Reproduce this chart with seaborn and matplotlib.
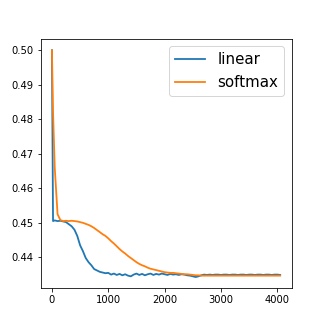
import matplotlib
matplotlib.use("Agg")
import matplotlib.pyplot as plt
import seaborn as sns

# training steps (x axis)
steps = [0, 20] + list(range(50, 4051, 50))

# loss curves
linear = [
    0.5000, 0.4505, 0.4507, 0.4505, 0.4506, 0.4504, 0.4502, 0.4496, 0.4490, 0.4480,
    0.4462, 0.4435, 0.4418, 0.4398, 0.4386, 0.4377, 0.4366, 0.4362, 0.4358, 0.4356,
    0.4354, 0.4355, 0.4350, 0.4353, 0.4349, 0.4352, 0.4348, 0.4351, 0.4347, 0.4345,
    0.4350, 0.4353, 0.4349, 0.4352, 0.4348, 0.4351, 0.4353, 0.4349, 0.4352, 0.4350,
    0.4353, 0.4351, 0.4349, 0.4352, 0.4350, 0.4351, 0.4349, 0.4351, 0.4350, 0.4348,
    0.4347, 0.4345, 0.4343, 0.4345, 0.4348, 0.4350, 0.4349, 0.4350, 0.4349, 0.4350,
    0.4350, 0.4349, 0.4350, 0.4350, 0.4349, 0.4350, 0.4350, 0.4349, 0.4350, 0.4350,
    0.4349, 0.4350, 0.4350, 0.4349, 0.4350, 0.4350, 0.4349, 0.4350, 0.4350, 0.4349,
    0.4350, 0.4350, 0.4349,
]
softmax = [
    0.5000, 0.4820, 0.4660, 0.4525, 0.4508, 0.4505, 0.4506, 0.4505, 0.4506, 0.4505,
    0.4504, 0.4502, 0.4500, 0.4497, 0.4494, 0.4490, 0.4485, 0.4479, 0.4473, 0.4467,
    0.4462, 0.4455, 0.4447, 0.4440, 0.4432, 0.4424, 0.4417, 0.4411, 0.4404, 0.4398,
    0.4392, 0.4386, 0.4381, 0.4377, 0.4374, 0.4370, 0.4367, 0.4365, 0.4363, 0.4361,
    0.4359, 0.4357, 0.4356, 0.4355, 0.4355, 0.4354, 0.4353, 0.4352, 0.4351, 0.4351,
    0.4350, 0.4349, 0.4348, 0.4348, 0.4347, 0.4347, 0.4347, 0.4347, 0.4347, 0.4347,
    0.4347, 0.4347, 0.4347, 0.4347, 0.4347, 0.4347, 0.4347, 0.4347, 0.4347, 0.4347,
    0.4347, 0.4347, 0.4347, 0.4347, 0.4347, 0.4347, 0.4347, 0.4347, 0.4347, 0.4347,
    0.4347, 0.4347, 0.4347,
]

fig, ax = plt.subplots(figsize=(4.5, 4.5), dpi=72)
sns.lineplot(x=steps, y=linear, label="linear", color="#1f77b4", linewidth=1.8, ax=ax)
sns.lineplot(x=steps, y=softmax, label="softmax", color="#ff7f0e", linewidth=1.8, ax=ax)
ax.legend(loc="upper right", fontsize=15)
fig.savefig("out.png", dpi=72)
